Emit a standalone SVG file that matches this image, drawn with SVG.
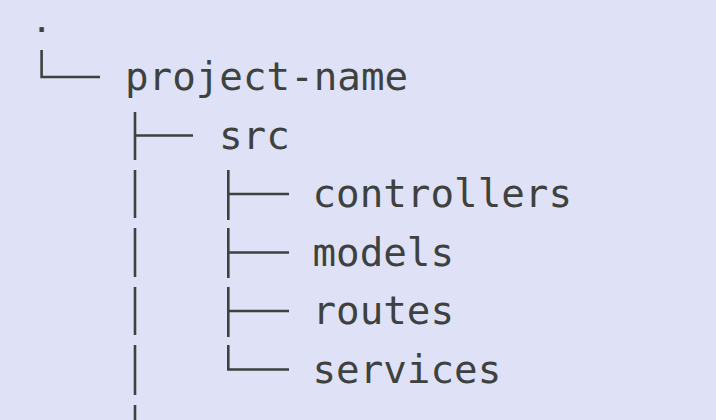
<svg xmlns="http://www.w3.org/2000/svg" width="716" height="420" viewBox="0 0 716 420">
<style>
.t{font-family:"DejaVu Sans Mono","Liberation Mono",monospace;font-size:39.2px;fill:#3e423f}
.c{stroke:#3e423f;stroke-width:2.6;fill:none}
</style>
<rect width="716" height="420" fill="#dfe1f6"/>
<g id="connectors" class="c">
<path d="M41.6 50V77H100"/>
<path d="M135 112V160M135 135.5H193"/>
<path d="M135 170V218M135 228V277M135 287V335M135 345V395M135 405V420"/>
<path d="M228.3 170V220M228.3 194H289"/>
<path d="M228.3 228V278M228.3 252.5H289"/>
<path d="M228.3 287V337M228.3 311H289"/>
<path d="M228.3 345V369.5H289"/>
</g>
<g id="root"><text class="t" style="font-size:27px;font-weight:bold" x="33.5" y="31.5">.</text></g>
<g id="project-name"><text class="t" x="125" y="90">project-name</text></g>
<g id="src"><text class="t" x="219" y="148.5">src</text></g>
<g id="controllers"><text class="t" x="312.5" y="207">controllers</text></g>
<g id="models"><text class="t" x="312.5" y="265.5">models</text></g>
<g id="routes"><text class="t" x="312.5" y="324">routes</text></g>
<g id="services"><text class="t" x="312.5" y="382.5">services</text></g>
</svg>
